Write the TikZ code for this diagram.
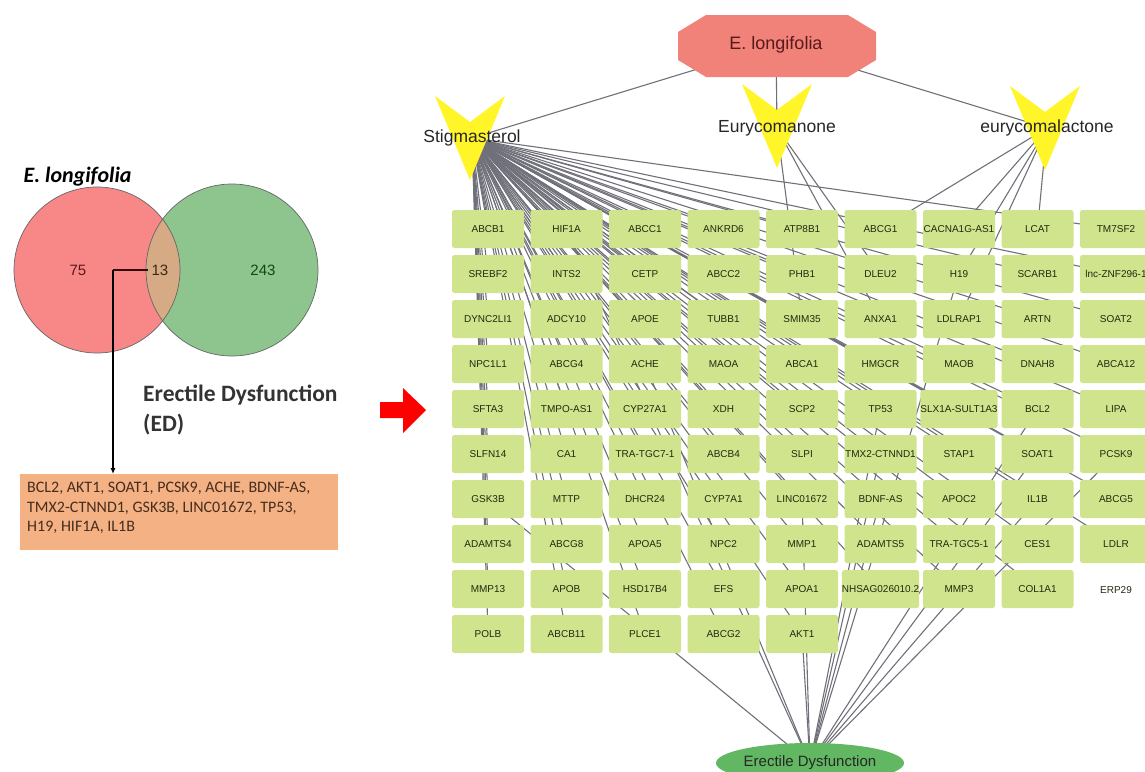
\documentclass[tikz,border=0pt]{standalone}
\usepackage{fontspec}
\setmainfont{Liberation Sans}
\newfontfamily\calibri{Carlito}
\usetikzlibrary{shapes.geometric,backgrounds,arrows.meta}

\definecolor{vennred}{RGB}{248,136,136}
\definecolor{venngreen}{RGB}{142,197,142}
\definecolor{venntan}{RGB}{214,170,132}
\definecolor{edbox}{RGB}{244,177,131}
\definecolor{genefill}{RGB}{207,228,140}
\definecolor{genetext}{RGB}{32,42,15}
\definecolor{linkgray}{RGB}{112,112,122}
\definecolor{octfill}{RGB}{240,130,122}
\definecolor{veeyellow}{RGB}{255,245,40}
\definecolor{edgreen}{RGB}{98,184,98}
\definecolor{redtext}{RGB}{90,25,25}
\definecolor{tantext}{RGB}{60,40,20}
\definecolor{greentext}{RGB}{20,70,20}
\definecolor{boxtext}{RGB}{70,45,30}
\definecolor{pointer}{RGB}{50,10,10}

\begin{document}
\begin{tikzpicture}[x=1pt,y=-1pt,
  gene/.style={fill=genefill,rounded corners=2.5pt,minimum width=72pt,minimum height=38pt,inner sep=0pt,font=\fontsize{10}{12}\selectfont,text=genetext},
  link/.style={draw=linkgray,line width=1.1pt},
  compound/.style={font=\fontsize{17.5}{20}\selectfont,text=black!85,inner sep=1pt},
  vee/.pic={\fill[veeyellow] (-35,-42) -- (0,-16) -- (35,-42) -- (0,42) -- cycle;}]

\useasboundingbox (0,0) rectangle (1145,771);

\node[font=\calibri\bfseries\itshape\fontsize{22}{26}\selectfont,anchor=west] (title) at (20,177) {E. longifolia};

\fill[vennred] (97,270) circle (83pt);
\fill[venngreen] (232,270) circle (86pt);
\begin{scope}
  \clip (97,270) circle (83pt);
  \fill[venntan] (232,270) circle (86pt);
\end{scope}
\draw[black!60,line width=0.7pt] (97,270) circle (83pt) (232,270) circle (86pt);

\node[font=\fontsize{15}{17}\selectfont,text=redtext] (n75) at (78,270) {75};
\node[font=\fontsize{15}{17}\selectfont,text=tantext] (n13) at (160,270) {13};
\node[font=\fontsize{15}{17}\selectfont,text=greentext] (n243) at (263,270) {243};

\node[font=\calibri\bfseries\fontsize{23.5}{30}\selectfont,text=black!80,anchor=north west,align=left,inner sep=0pt] (edlabel) at (143,385) {Erectile Dysfunction\\(ED)};

\node[fill=edbox,anchor=north west,minimum width=318pt,minimum height=76pt,inner sep=0pt] (gbox) at (20,474) {};
\node[font=\calibri\fontsize{16}{19.5}\selectfont,text=boxtext,anchor=north west,align=left,inner sep=0pt] (genes) at (27,482) {BCL2, AKT1, SOAT1, PCSK9, ACHE, BDNF-AS,\\TMX2-CTNND1, GSK3B, LINC01672, TP53,\\H19, HIF1A, IL1B};

\coordinate (bend) at (113,270);
\draw[line width=1.1pt,pointer] (n13.west) -- (bend);
\draw[line width=1.1pt,-{Latex[length=6pt,width=5pt]}] (bend) -- (bend |- gbox.north);

\fill[red] (380,402) -- (403,402) -- (403,388) -- (426,410) -- (403,433) -- (403,418) -- (380,418) -- cycle;

\fill[octfill] (706,15) -- (848,15) -- (876,32) -- (876,60) -- (848,77) -- (706,77) -- (678,60) -- (678,32) -- cycle;
\node[font=\fontsize{18}{20}\selectfont,text=redtext] (el) at (776,45) {E. longifolia};

\pic at (470,138) {vee};
\pic at (777,126) {vee};
\pic at (1045,128) {vee};
\node[compound] (stig) at (472,138) {Stigmasterol};
\node[compound] (eman) at (777,128) {Eurycomanone};
\node[compound] (elac) at (1047,128) {eurycomalactone};

\foreach \row [count=\r] in {
  {ABCB1,HIF1A,ABCC1,ANKRD6,ATP8B1,ABCG1,CACNA1G-AS1,LCAT,TM7SF2},
  {SREBF2,INTS2,CETP,ABCC2,PHB1,DLEU2,H19,SCARB1,lnc-ZNF296-1},
  {DYNC2LI1,ADCY10,APOE,TUBB1,SMIM35,ANXA1,LDLRAP1,ARTN,SOAT2},
  {NPC1L1,ABCG4,ACHE,MAOA,ABCA1,HMGCR,MAOB,DNAH8,ABCA12},
  {SFTA3,TMPO-AS1,CYP27A1,XDH,SCP2,TP53,SLX1A-SULT1A3,BCL2,LIPA},
  {SLFN14,CA1,TRA-TGC7-1,ABCB4,SLPI,TMX2-CTNND1,STAP1,SOAT1,PCSK9},
  {GSK3B,MTTP,DHCR24,CYP7A1,LINC01672,BDNF-AS,APOC2,IL1B,ABCG5},
  {ADAMTS4,ABCG8,APOA5,NPC2,MMP1,ADAMTS5,TRA-TGC5-1,CES1,LDLR},
  {MMP13,APOB,HSD17B4,EFS,APOA1,NHSAG026010.2,MMP3,COL1A1},
  {POLB,ABCB11,PLCE1,ABCG2,AKT1}}
  \foreach \g [count=\c] in \row
    \node[gene] (g\r-\c) at ({488+78.5*(\c-1)},{229+45*(\r-1)}) {\g};
\node[font=\fontsize{10}{12}\selectfont,text=genetext] (erp) at (1116,590) {ERP29};

\node[ellipse,fill=edgreen,minimum width=188pt,minimum height=40pt,inner sep=0pt,font=\fontsize{15}{17}\selectfont,text=black!85] (ed) at (810,763) {Erectile Dysfunction};

\begin{scope}[on background layer]
  \draw[link] (el.center) -- (stig.center) (el.center) -- (eman.center) (el.center) -- (elac.center);
  \foreach \r/\cs in {1/{1,2,3,4,5,9},2/{1,2,3,4,5,8,9},3/{1,2,3,4,8,9},4/{1,...,9},5/{1,...,9},6/{1,...,9},7/{1,...,9},8/{1,...,9},9/{1,...,8},10/{1,...,5}}
    \foreach \c in \cs
      \draw[link] (stig.center) -- (g\r-\c.center);
  \foreach \t in {3-5,2-6,3-6}
    \draw[link] (eman.center) -- (g\t.center);
  \foreach \t in {1-6,1-7,2-7,3-7,1-8}
    \draw[link] (elac.center) -- (g\t.center);
  \foreach \t in {5-8,10-5,6-8,6-9,4-3,7-6,6-6,7-1,7-5,5-6,2-7,1-2,7-8}
    \draw[link] (g\t.center) -- (ed.center);
\end{scope}

\end{tikzpicture}
\end{document}
